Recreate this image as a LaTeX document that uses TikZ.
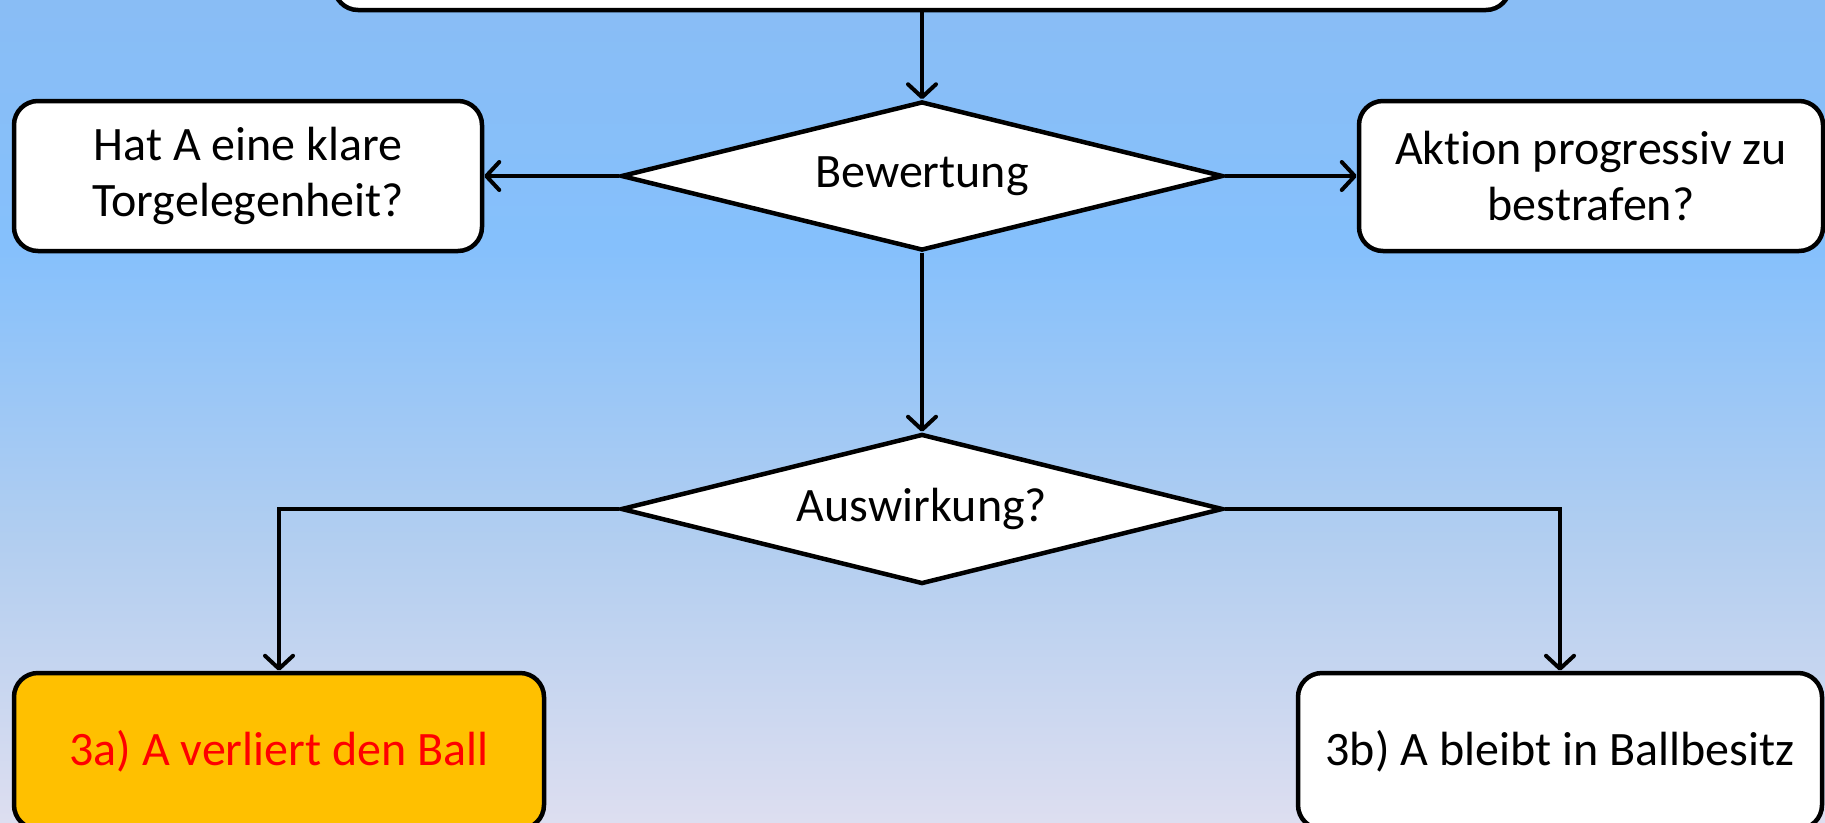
\documentclass[tikz,border=0pt]{standalone}
\usepackage{fontspec}
\setmainfont[RawFeature=-liga]{Carlito}
\usetikzlibrary{shapes.geometric,arrows.meta}
\definecolor{bgtop}{RGB}{137,189,245}
\definecolor{bgmid}{RGB}{133,192,252}
\definecolor{bgmid2}{RGB}{178,206,240}
\definecolor{bgbot}{RGB}{221,222,240}
\definecolor{boxorange}{RGB}{255,192,0}
\pgfdeclareverticalshading{bgshade}{100bp}{
  color(0bp)=(bgbot); color(25bp)=(bgbot); color(42bp)=(bgmid2); color(60bp)=(bgmid); color(75bp)=(bgtop); color(100bp)=(bgtop)}
\tikzset{
  stepbox/.style={draw=black, line width=4.5pt, fill=white, rounded corners=24pt,
    align=center, inner sep=0pt, font=\fontsize{48}{56}\selectfont},
  decbox/.style={draw=black, line width=4.5pt, fill=white, diamond, aspect=4,
    inner sep=0pt, font=\fontsize{48}{56}\selectfont},
  conn/.style={line width=4pt, -{Straight Barb[length=13pt,width=28pt,line cap=round,line join=round]}}
}
\begin{document}
\begin{tikzpicture}[x=1pt,y=-1pt]
\useasboundingbox (0,0) rectangle (1825,822);
\shade[shading=bgshade] (0,0) rectangle (1825,822);
\node[stepbox, minimum width=1176pt, minimum height=80pt] (top) at (922,-30) {};
\node[decbox, minimum width=602pt, minimum height=149pt] (d1) at (922,176) {Bewertung};
\node[stepbox, minimum width=468pt, minimum height=150pt] (left) at (248,176) {Hat A eine klare\\Torgelegenheit?};
\node[stepbox, minimum width=464pt, minimum height=150pt] (right) at (1591,176) {Aktion progressiv zu\\bestrafen?};
\node[decbox, minimum width=602pt, minimum height=150pt] (d2) at (922,509) {Auswirkung?};
\node[stepbox, fill=boxorange, text=red, minimum width=530pt, minimum height=156pt] (bl) at (279,751) {3a) A verliert den Ball};
\node[stepbox, minimum width=524pt, minimum height=156pt] (br) at (1560,751) {3b) A bleibt in Ballbesitz};
\draw[conn] (top.south) -- (d1.north);
\draw[conn] (d1.west) -- (left.east);
\draw[conn] (d1.east) -- (right.west);
\draw[conn] (d1.south) -- (d2.north);
\draw[conn] (d2.west) -| (bl.north);
\draw[conn] (d2.east) -| (br.north);
\end{tikzpicture}
\end{document}
